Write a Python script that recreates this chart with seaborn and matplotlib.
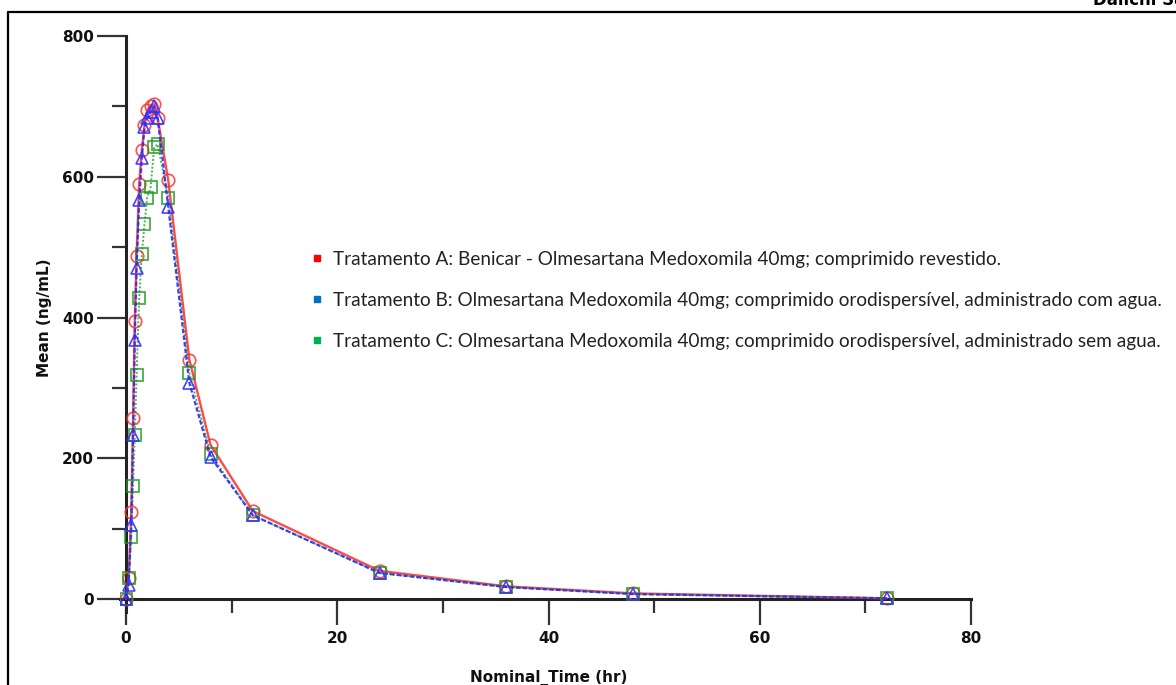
import numpy as np
import pandas as pd
import matplotlib
matplotlib.use("Agg")
import matplotlib.pyplot as plt
from matplotlib.lines import Line2D
import seaborn as sns

# ---- data ----
time_hr = [0, 0.25, 0.5, 0.67, 0.83, 1, 1.25, 1.5, 1.75, 2, 2.33, 2.67, 3, 4,
           6, 8, 12, 24, 36, 48, 72]
mean_A = [0, 30, 124, 257, 395, 487, 590, 638, 673, 695, 700, 703, 683, 595,
          340, 219, 125, 40, 18, 8, 1]
mean_B = [0, 20, 105, 233, 368, 470, 567, 627, 670, 683, 692, 700, 683, 557,
          307, 202, 119, 37, 17, 7, 1]
mean_C = [0, 30, 88, 161, 233, 318, 428, 490, 533, 570, 585, 642, 646, 570,
          321, 206, 119, 37, 17, 7, 1]

legend_labels = [
    "Tratamento A: Benicar - Olmesartana Medoxomila 40mg; comprimido revestido.",
    "Tratamento B: Olmesartana Medoxomila 40mg; comprimido orodispersível, administrado com agua.",
    "Tratamento C: Olmesartana Medoxomila 40mg; comprimido orodispersível, administrado sem agua.",
]
x_major = [0, 20, 40, 60, 80]
x_minor = [10, 30, 50, 70]
y_major = [0, 200, 400, 600, 800]
y_minor = [100, 300, 500, 700]

sns.set_theme(style="ticks")
plt.rcParams["font.family"] = ["DejaVu Sans"]

W, H = 1176, 685
fig = plt.figure(figsize=(W / 100, H / 100), dpi=100)
fig.patch.set_facecolor("white")

# axes placement (pixels -> figure fraction)
x0_px, x80_px = 126, 971
y0_px, y800_px = 599, 36
xs = (x80_px - x0_px) / 80.0
ys = (y0_px - y800_px) / 800.0
xlo, yl = -0.6, -18
left_px = x0_px + xlo * xs
bottom_px = y0_px - yl * ys
ax = fig.add_axes([left_px / W, (H - bottom_px) / H,
                   (x80_px - left_px) / W, (bottom_px - y800_px) / H])

df = pd.DataFrame({"t": time_hr, "A": mean_A, "B": mean_B, "C": mean_C})

sns.lineplot(data=df, x="t", y="A", ax=ax, color="#ff2a2a", alpha=0.85,
             linewidth=1.7, linestyle="-", marker="o", markersize=9,
             mfc="none", mec="#ff3030", mew=1.2, zorder=3)
sns.lineplot(data=df, x="t", y="C", ax=ax, color="#22a022", alpha=0.8,
             linewidth=1.4, linestyle=(0, (1, 1)), marker="s", markersize=8.5,
             mfc="none", mec="#1a9a1a", mew=1.3, zorder=4)
sns.lineplot(data=df, x="t", y="B", ax=ax, color="#2a2aff", alpha=0.9,
             linewidth=1.6, linestyle=(0, (2, 1)), marker="^", markersize=8.5,
             mfc="none", mec="#3030ff", mew=1.2, zorder=5)

ax.set_xlim(xlo, 80)
ax.set_ylim(yl, 800)
for s in ["top", "right"]:
    ax.spines[s].set_visible(False)
ax.spines["left"].set_position(("data", 0))
ax.spines["bottom"].set_position(("data", 0))
for s in ["left", "bottom"]:
    ax.spines[s].set_linewidth(2.2)
    ax.spines[s].set_color("#222222")

ax.set_xticks(x_major)
ax.set_xticks(x_minor, minor=True)
ax.set_yticks(y_major)
ax.set_yticks(y_minor, minor=True)
ax.tick_params(axis="both", which="both", bottom=True, left=True,
               top=False, right=False, direction="out", color="#333333",
               width=1.6)
ax.tick_params(axis="both", which="major", labelsize=11)
ax.tick_params(axis="x", which="major", length=19, pad=4)
ax.tick_params(axis="y", which="major", length=21, pad=2)
ax.tick_params(axis="both", which="minor", length=10)
for lbl in ax.get_xticklabels() + ax.get_yticklabels():
    lbl.set_fontweight("bold")
    lbl.set_color("#111111")
ax.grid(False)

ax.set_xlabel("Nominal_Time (hr)", fontsize=11, fontweight="bold", color="#111111")
ax.set_ylabel("Mean (ng/mL)", fontsize=11, fontweight="bold", color="#111111")
ax.xaxis.set_label_coords((549 - left_px) / (x80_px - left_px),
                          (bottom_px - 678) / (bottom_px - y800_px))
ax.xaxis.label.set_va("center")
ax.yaxis.set_label_coords((45 - left_px) / (x80_px - left_px),
                          (bottom_px - 318) / (bottom_px - y800_px))
ax.yaxis.label.set_va("center")

handles = [Line2D([], [], ls="none", marker="s", markersize=5, color=c)
           for c in ["#ff0000", "#0070c0", "#00b050"]]
fig.legend(handles, legend_labels, loc="upper left",
           bbox_to_anchor=(312 / W, (H - 251) / H), frameon=False,
           prop={"family": ["Lato", "DejaVu Sans"], "size": 13.7},
           handlelength=0.55, handletextpad=0.55, labelspacing=1.25,
           borderpad=0, borderaxespad=0, labelcolor="#222222")

# page frame and cut-off header text
fig.add_artist(Line2D([8 / W, 1], [(H - 12) / H, (H - 12) / H], color="black", lw=1.6))
fig.add_artist(Line2D([8 / W, 8 / W], [0, (H - 12) / H], color="black", lw=1.6))
fig.text(1093 / W, 1.0, "Daiichi Sankyo", fontsize=12, fontweight="heavy",
         va="center", ha="left", color="black")

fig.savefig("out.png", dpi=100)
